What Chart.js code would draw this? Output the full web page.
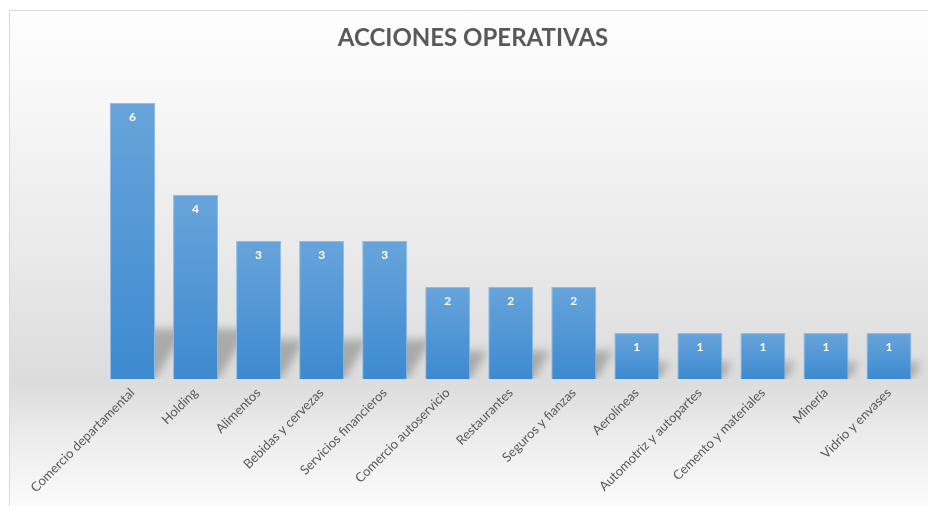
<!DOCTYPE html>
<html>
<head>
<meta charset="utf-8">
<script src="https://cdn.jsdelivr.net/npm/chart.js@4.4.1/dist/chart.umd.min.js"></script>
<style>
  html, body { margin: 0; padding: 0; background: #ffffff; }
  #wrap { width: 928px; height: 506px; }
</style>
</head>
<body>
<div id="wrap"><canvas id="grafica" width="928" height="506"></canvas></div>
<script>
// datos de la grafica
var sectores = ['Comercio departamental', 'Holding', 'Alimentos', 'Bebidas y cervezas',
  'Servicios financieros', 'Comercio autoservicio', 'Restaurantes', 'Seguros y fianzas',
  'Aerolíneas', 'Automotriz y autopartes', 'Cemento y materiales', 'Minería', 'Vidrio y envases'];
var acciones = [6, 4, 3, 3, 3, 2, 2, 2, 1, 1, 1, 1, 1];
var titulo = 'ACCIONES OPERATIVAS';

var fuente = 'Lato, "Noto Sans", sans-serif';

// fondo degradado con el marco
var fondo = {
  id: 'fondo',
  beforeDraw: function(chart){
    var ctx = chart.ctx;
    ctx.save();
    ctx.fillStyle = '#ffffff';
    ctx.fillRect(0, 0, chart.width, chart.height);
    var g = ctx.createLinearGradient(0, 10, 0, chart.height);
    g.addColorStop(0, '#fefefe');
    g.addColorStop(0.2, '#f6f6f6');
    g.addColorStop(0.5, '#e9e9e9');
    g.addColorStop(0.75, '#dcdcdc');
    g.addColorStop(0.86, '#ececec');
    g.addColorStop(1, '#fbfbfb');
    ctx.fillStyle = g;
    ctx.fillRect(10, 11, chart.width - 10, chart.height - 11);
    ctx.strokeStyle = '#d9d9d9';
    ctx.lineWidth = 1;
    ctx.beginPath();
    ctx.moveTo(9.5, chart.height);
    ctx.lineTo(9.5, 10.5);
    ctx.lineTo(chart.width, 10.5);
    ctx.stroke();
    ctx.restore();
  }
};

// sombra en perspectiva de cada barra
var sombras = {
  id: 'sombras',
  beforeDatasetsDraw: function(chart){
    var ctx = chart.ctx;
    var area = chart.chartArea;
    var meta = chart.getDatasetMeta(0);
    ctx.save();
    ctx.beginPath();
    ctx.rect(area.left, area.top - 60, area.right - area.left + 20, area.bottom - area.top + 60);
    ctx.clip();
    ctx.filter = 'blur(4px)';
    ctx.fillStyle = 'rgba(0,0,0,0.24)';
    meta.data.forEach(function(bar){
      var h = bar.base - bar.y;
      var t = Math.min(h * 0.25 + 5, 50);
      var l = bar.x - bar.width / 2, r = bar.x + bar.width / 2;
      ctx.beginPath();
      ctx.moveTo(l + 6, bar.base);
      ctx.lineTo(r, bar.base);
      ctx.lineTo(r + t / 1.6, bar.base - t);
      ctx.lineTo(l + 6 + t / 1.6, bar.base - t);
      ctx.closePath();
      ctx.fill();
    });
    ctx.restore();
  }
};

// etiquetas de valor dentro de las barras
var etiquetas = {
  id: 'etiquetas',
  afterDatasetsDraw: function(chart){
    var ctx = chart.ctx;
    var meta = chart.getDatasetMeta(0);
    ctx.save();
    ctx.fillStyle = '#ffffff';
    ctx.font = 'bold 12px ' + fuente;
    ctx.textAlign = 'center';
    ctx.textBaseline = 'middle';
    meta.data.forEach(function(bar, i){
      ctx.fillText(acciones[i], bar.x, bar.y + 14);
    });
    ctx.restore();
  }
};

function degradado(context){
  var chart = context.chart;
  var area = chart.chartArea;
  if (!area || context.type !== 'data') return '#4a93d4';
  var y = chart.scales.y.getPixelForValue(acciones[context.dataIndex]);
  var g = chart.ctx.createLinearGradient(0, y, 0, area.bottom);
  g.addColorStop(0, '#68a4db');
  g.addColorStop(1, '#3d8ad0');
  return g;
}

new Chart(document.getElementById('grafica'), {
  type: 'bar',
  data: {
    labels: sectores,
    datasets: [{
      label: titulo,
      data: acciones,
      backgroundColor: degradado,
      borderColor: '#8dbbe5',
      borderWidth: 1,
      barPercentage: 0.714,
      categoryPercentage: 1
    }]
  },
  options: {
    responsive: false,
    animation: false,
    layout: { padding: { left: 18, right: 0, top: 0, bottom: 0 } },
    plugins: {
      legend: { display: false },
      tooltip: { enabled: false },
      title: {
        display: true,
        text: titulo,
        color: '#595959',
        font: { family: fuente, size: 24, weight: 'bold', lineHeight: 1.2 },
        padding: { top: 24, bottom: 50 }
      }
    },
    scales: {
      x: {
        grid: { display: false, drawTicks: false },
        border: { display: false },
        ticks: {
          color: '#595959',
          font: { family: fuente, size: 13 },
          minRotation: 45,
          maxRotation: 45,
          padding: 6
        },
        afterFit: function(scale){
          scale.height = 127;
          scale.paddingLeft = 101;
          scale.paddingRight = 7.5;
        }
      },
      y: { display: false, min: 0, max: 6 }
    }
  },
  plugins: [fondo, sombras, etiquetas]
});
</script>
</body>
</html>
